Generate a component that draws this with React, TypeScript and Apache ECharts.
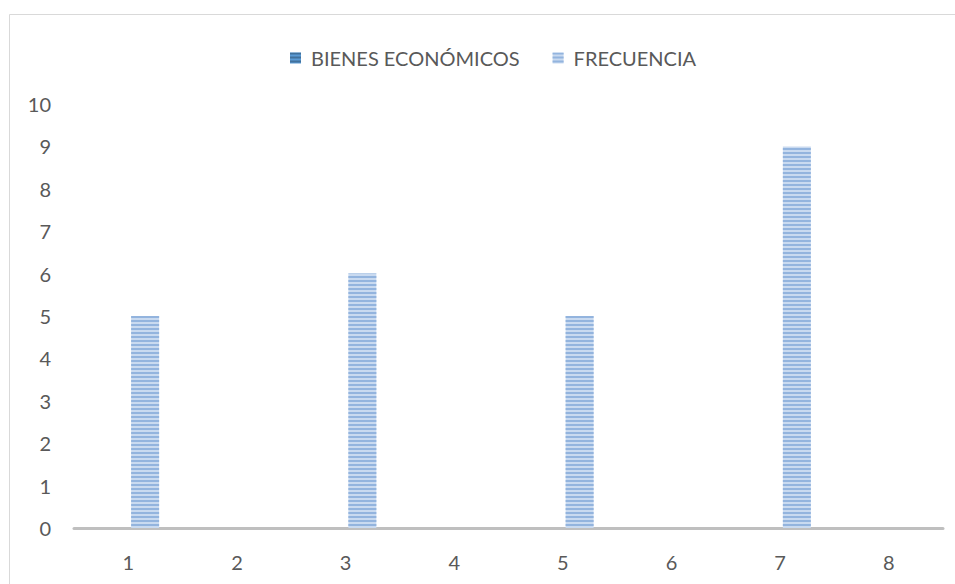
import React, { useEffect, useRef } from "react";
import * as echarts from "echarts";

const categories = ["1", "2", "3", "4", "5", "6", "7", "8"];
const bienesValues = [0, 0, 0, 0, 0, 0, 0, 0];
const frecuenciaValues: (number | null)[] = [5, null, 6, null, 5, null, 9, null];
const seriesNames = ["BIENES ECONÓMICOS", "FRECUENCIA"];

const FONT = "Lato, 'Open Sans', sans-serif";

export default function App() {
  const ref = useRef<HTMLDivElement>(null);
  useEffect(() => {
    if (!ref.current) return;
    const chart = echarts.init(ref.current, null, { renderer: "svg" });
    chart.setOption({
      animation: false,
      backgroundColor: "#ffffff",
      graphic: [
        {
          type: "polyline",
          shape: { points: [[9.5, 700], [9.5, 14.5], [1000, 14.5]] },
          style: { stroke: "#d9d9d9", lineWidth: 1, fill: null },
          silent: true,
        },
      ],
      legend: {
        top: 43,
        left: 285,
        icon: "rect",
        itemWidth: 11,
        itemHeight: 11,
        itemGap: 33,
        textStyle: {
          fontFamily: FONT,
          fontSize: 20,
          color: "#595959",
          padding: [0, 0, 0, 5],
        },
        data: seriesNames,
      },
      grid: { left: 74, right: 12, top: 104, bottom: 56, containLabel: false },
      xAxis: {
        type: "category",
        data: categories,
        axisLine: { lineStyle: { color: "#bfbfbf", width: 3 } },
        axisTick: { show: false },
        axisLabel: { fontFamily: FONT, fontSize: 20, color: "#595959", margin: 24 },
      },
      yAxis: {
        type: "value",
        min: 0,
        max: 10,
        interval: 1,
        axisLine: { show: false },
        axisTick: { show: false },
        splitLine: { show: false },
        axisLabel: { fontFamily: FONT, fontSize: 20, color: "#595959", margin: 23 },
      },
      series: [
        {
          name: seriesNames[0],
          type: "bar",
          data: bienesValues,
          barWidth: 28,
          barGap: "20%",
          itemStyle: {
            color: "#5b9bd5",
            decal: {
              symbol: "rect",
              symbolSize: 1,
              dashArrayX: [1, 0],
              dashArrayY: [2, 2],
              rotation: 0,
              color: "#41719c",
            },
          },
        },
        {
          name: seriesNames[1],
          type: "bar",
          data: frecuenciaValues,
          barWidth: 28,
          barGap: "20%",
          itemStyle: {
            color: "#c9daf0",
            decal: {
              symbol: "rect",
              symbolSize: 1,
              dashArrayX: [1, 0],
              dashArrayY: [2, 2],
              rotation: 0,
              color: "#93b4de",
            },
          },
        },
      ],
    });
    return () => chart.dispose();
  }, []);
  return (
    <div
      ref={ref}
      style={{ position: "absolute", left: 0, top: 0, width: 955, height: 584 }}
    />
  );
}
